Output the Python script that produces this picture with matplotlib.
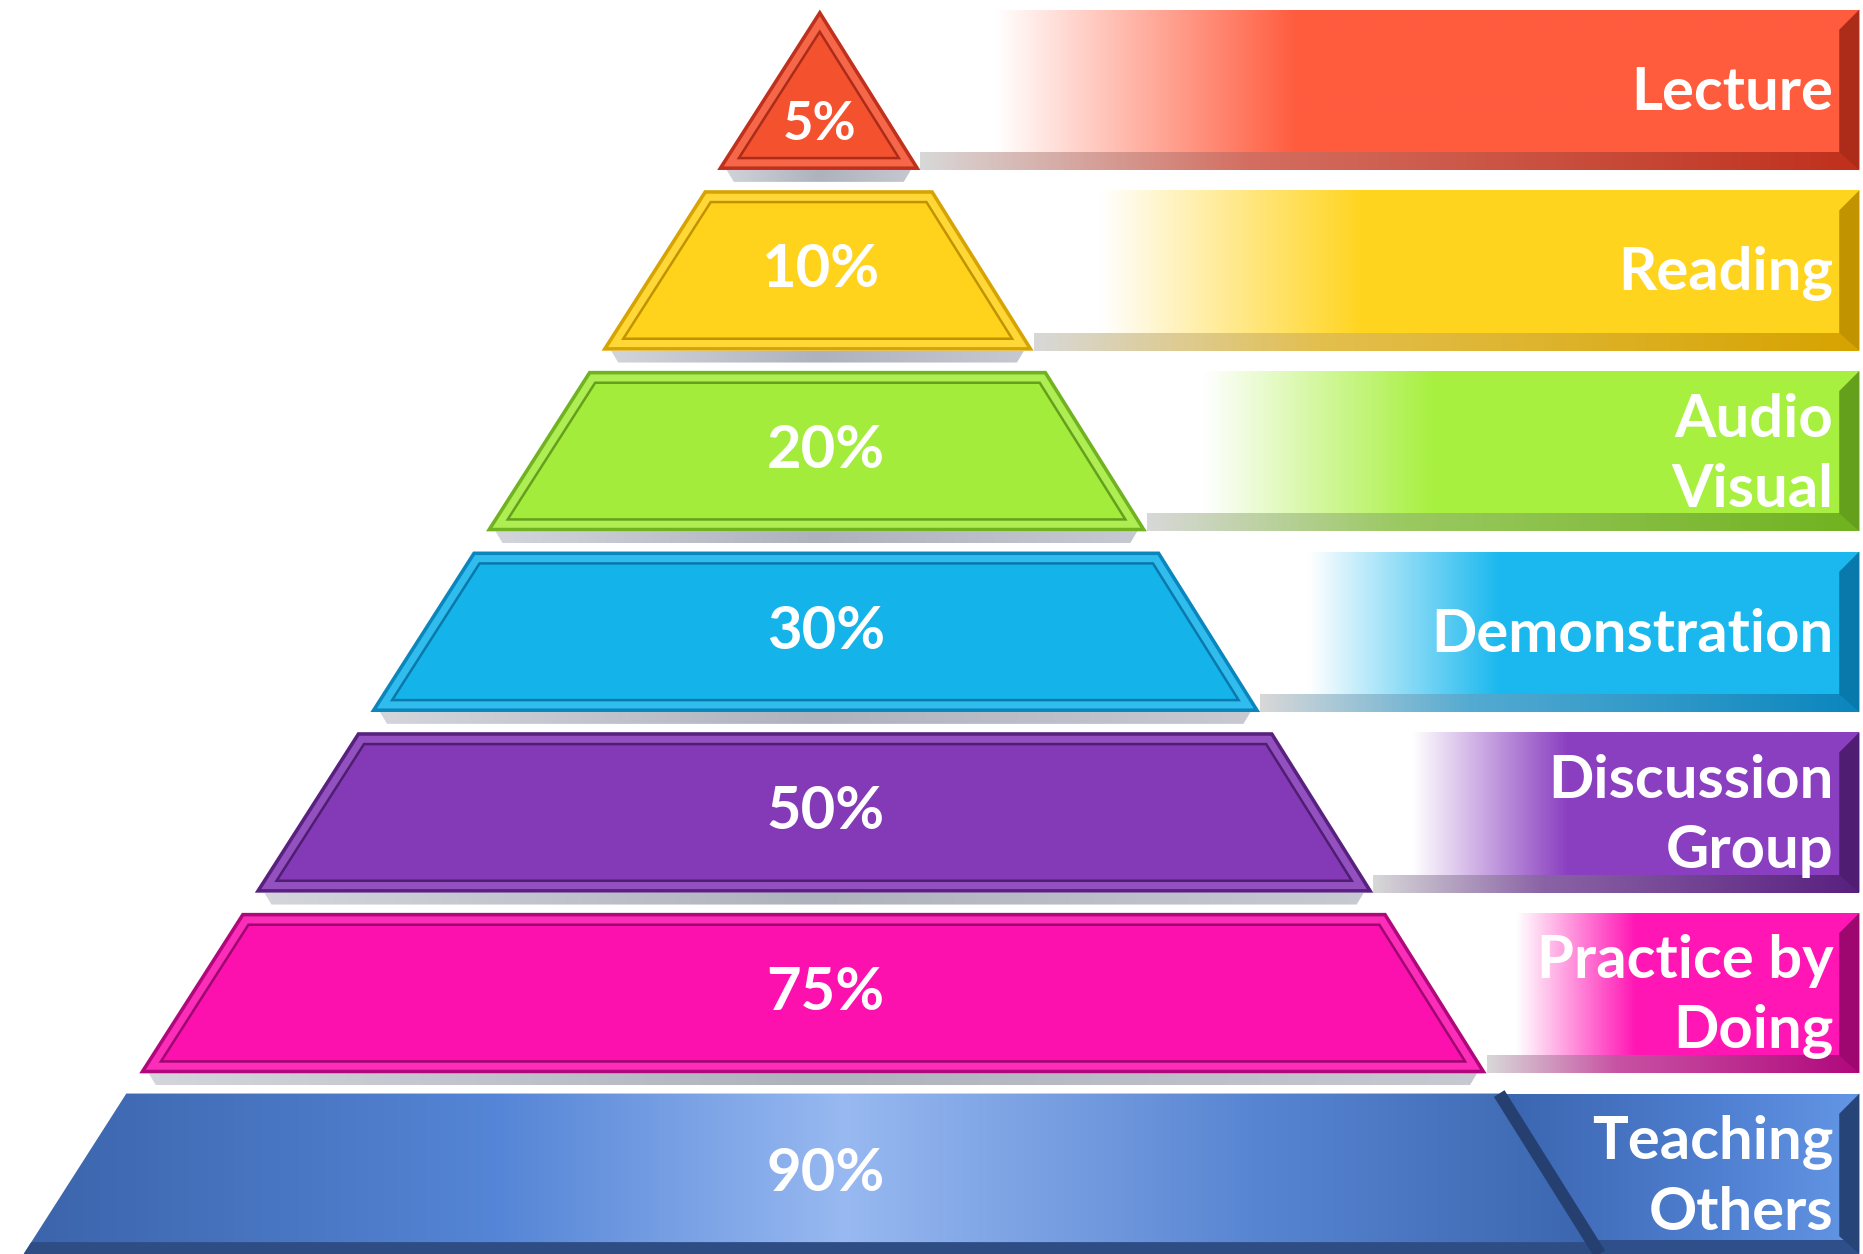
import numpy as np
import matplotlib.pyplot as plt
from matplotlib.patches import Polygon
from matplotlib.colors import to_rgb

# learning pyramid data (top to bottom)
methods = ["Lecture", "Reading", "Audio\nVisual", "Demonstration",
           "Discussion\nGroup", "Practice by\nDoing", "Teaching\nOthers"]
retention = [5, 10, 20, 30, 50, 75, 90]
fill_colors = ["#F4522F", "#FFD31C", "#A3EC3C", "#14B4EA", "#8439B7", "#FC10AE", "#4E7BC9"]
edge_colors = ["#C0301C", "#D7A300", "#70B21F", "#0A86BE", "#58207F", "#B0087C", "#2B4C86"]
box_colors = ["#FF5C3E", "#FFD41E", "#A8F040", "#1AB8EE", "#8A3FC0", "#FF16B4", "#4A78CC"]

W, H = 1568, 1055
APEX_X, APEX_Y = 690, 8
KL, KR = 0.64, 0.627
SL, SR = np.sqrt(1 + KL ** 2), np.sqrt(1 + KR ** 2)
PITCH = 152

fig = plt.figure(figsize=(18.63, 12.54), dpi=100)
ax = fig.add_axes([0, 0, 1, 1])
ax.axis('off')


def left_x(y):
    return APEX_X - KL * (y - APEX_Y)


def right_x(y):
    return APEX_X + KR * (y - APEX_Y)


def tier_poly(t, b, d=0):
    yt = max(t + d, APEX_Y + d * (SL + SR) / (KL + KR))
    yb = b - d
    return [(left_x(yt) + d * SL, yt), (right_x(yt) - d * SR, yt),
            (right_x(yb) - d * SR, yb), (left_x(yb) + d * SL, yb)]


def mix(c, other, f):
    c, o = np.array(to_rgb(c)), np.array(to_rgb(other))
    return tuple(c * (1 - f) + o * f)


def grad_fill(poly, x0, x1, stops, z):
    xs = np.linspace(0, 1, 400)
    pos = [s[0] for s in stops]
    cols = np.array([to_rgb(s[1]) for s in stops])
    img = np.stack([np.interp(xs, pos, cols[:, k]) for k in range(3)], axis=-1)[None, :, :]
    ys = [p[1] for p in poly]
    im = ax.imshow(img, extent=(x0, x1, max(ys), min(ys)), aspect='auto',
                   zorder=z, interpolation='bilinear')
    clip = Polygon(poly, closed=True, facecolor='none', edgecolor='none')
    ax.add_patch(clip)
    im.set_clip_path(clip)


for i, (name, pct) in enumerate(zip(methods, retention)):
    top = APEX_Y + PITCH * i
    bot = 143 + PITCH * i
    col, edge, bcol = fill_colors[i], edge_colors[i], box_colors[i]

    # label box to the right of the tier
    xl = right_x(bot)
    wbox = W - 3 - xl
    span = W - 3 - right_x(top)
    box = [(right_x(top), top), (W - 3, top), (W - 3, bot), (xl, bot)]
    if i < 6:
        grad_fill(box, right_x(top), W - 3,
                  [(0, 'white'), ((xl - right_x(top) + 0.08 * wbox) / span, 'white'),
                   ((xl - right_x(top) + 0.4 * wbox) / span, bcol), (1, bcol)], 1)
        strip = [(right_x(bot - 15), bot - 15), (W - 3, bot - 15), (W - 3, bot), (xl, bot)]
        grad_fill(strip, xl, W - 3, [(0, '#d8d8d8'), (0.35, mix(edge, 'white', 0.3)), (1, edge)], 2)
    else:
        grad_fill(box, right_x(top), W - 3, [(0, '#3A64AE'), (0.6, '#4F7FD0'), (1, '#6496E6')], 1)
        strip = [(right_x(bot - 12), bot - 12), (W - 3, bot - 12), (W - 3, bot), (xl, bot)]
        ax.add_patch(Polygon(strip, closed=True, facecolor='#2E4F8A', edgecolor='none', zorder=2))
    bevel = [(W - 20, top + 17), (W - 3, top), (W - 3, bot), (W - 20, bot - 15)]
    ax.add_patch(Polygon(bevel, closed=True, facecolor=mix(edge, 'black', 0.1),
                         edgecolor='none', zorder=2))

    # pyramid tier
    if i < 6:
        shadow = [(left_x(bot) + 8, bot), (right_x(bot) - 8, bot),
                  (right_x(bot) - 14, bot + 10), (left_x(bot) + 14, bot + 10)]
        grad_fill(shadow, left_x(bot), right_x(bot),
                  [(0, '#d4d6dc'), (0.5, '#aeb2bd'), (1, '#c8cad2')], 3)
        ax.add_patch(Polygon(tier_poly(top, bot), closed=True, facecolor=edge,
                             edgecolor='none', zorder=4))
        ax.add_patch(Polygon(tier_poly(top, bot, 3), closed=True, facecolor=mix(col, 'white', 0.12),
                             edgecolor='none', zorder=5))
        ax.add_patch(Polygon(tier_poly(top, bot, 10), closed=True, facecolor=col,
                             edgecolor=mix(edge, 'black', 0.1), linewidth=1.8, zorder=6))
    else:
        body = tier_poly(top, bot)
        grad_fill(body, left_x(bot), right_x(bot),
                  [(0, '#3B64AB'), (0.3, '#5585D6'), (0.52, '#98B9F1'),
                   (0.78, '#5885D2'), (1, '#3A65AE')], 4)
        base = [(left_x(bot - 10), bot - 10), (right_x(bot - 10), bot - 10),
                (right_x(bot), bot), (left_x(bot), bot)]
        ax.add_patch(Polygon(base, closed=True, facecolor='#2E4D85', edgecolor='none', zorder=5))
        ax.plot([right_x(top), right_x(bot)], [top, bot], color='#253F70',
                linewidth=9, solid_capstyle='butt', zorder=5)

    # texts
    ty = 105 if i == 0 else (top + bot) / 2
    ax.text(APEX_X + (0 if i < 2 else 5), ty, f"{pct}%", color='white', fontsize=38 if i == 0 else 43,
            fontweight='bold', family='Lato', ha='center', va='center', zorder=8)
    ax.text(1543, (top + bot) / 2 + 3, name, color='white', fontsize=43, fontweight='bold',
            family='Lato', ha='right', va='center', linespacing=1.37, zorder=8)

ax.set_xlim(0, W)
ax.set_ylim(H, 0)
fig.savefig('out.png', dpi=100, facecolor='white')
